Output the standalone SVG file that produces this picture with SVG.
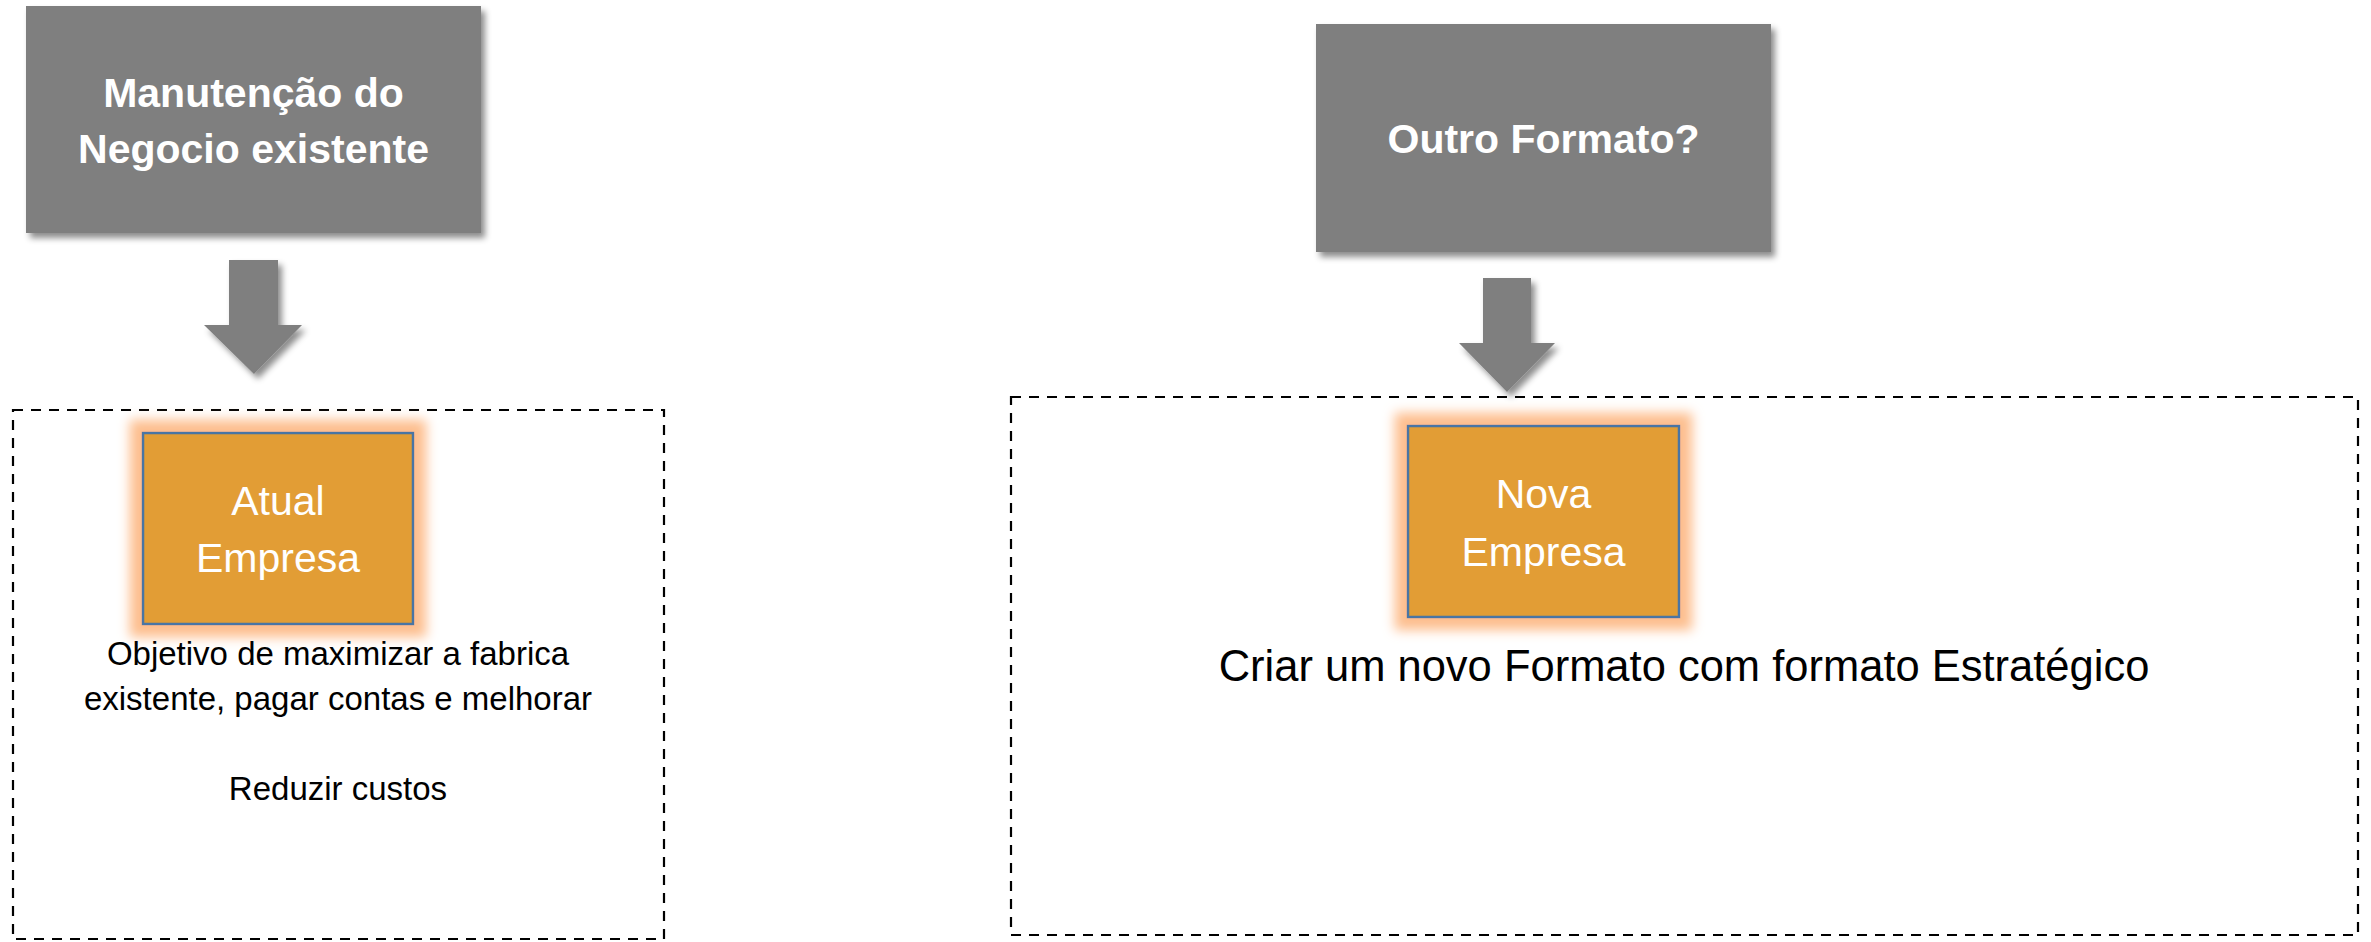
<svg xmlns="http://www.w3.org/2000/svg" width="2371" height="942" viewBox="0 0 2371 942">
<defs>
<filter id="shadow" x="-10%" y="-10%" width="130%" height="130%">
<feGaussianBlur in="SourceAlpha" stdDeviation="3"/>
<feOffset dx="4" dy="5" result="b"/>
<feFlood flood-color="#000" flood-opacity="0.45"/>
<feComposite in2="b" operator="in"/>
<feMerge><feMergeNode/><feMergeNode in="SourceGraphic"/></feMerge>
</filter>
<filter id="glow" x="-30%" y="-30%" width="160%" height="160%">
<feMorphology in="SourceAlpha" operator="dilate" radius="12" result="d"/>
<feGaussianBlur in="d" stdDeviation="6" result="g"/>
<feFlood flood-color="#FDBE8E" flood-opacity="1"/>
<feComposite in2="g" operator="in"/>
<feMerge><feMergeNode/><feMergeNode in="SourceGraphic"/></feMerge>
</filter>
</defs>
<style>
.head{fill:#7F7F7F;filter:url(#shadow)}
.headtxt{font-family:"Liberation Sans",Arial,sans-serif;font-weight:bold;font-size:41px;fill:#fff;text-anchor:middle}
.dash{fill:none;stroke:#000;stroke-width:2.2;stroke-dasharray:10 8}
.org{fill:#E29D35;stroke:#4A74A4;stroke-width:2.5;filter:url(#glow)}
.orgtxt{font-family:"Liberation Sans",Arial,sans-serif;font-size:41px;fill:#fff;text-anchor:middle}
.desc{font-family:"Liberation Sans",Arial,sans-serif;font-size:33px;fill:#000;text-anchor:middle}
.arrow{fill:#7F7F7F;filter:url(#shadow)}
</style>
<rect width="2371" height="942" fill="#fff"/>

<g id="node-manutencao">
<rect class="head" x="26" y="6" width="455" height="227"/>
<text class="headtxt" x="253.5" y="107">Manutenção do</text>
<text class="headtxt" x="253.5" y="163">Negocio existente</text>
</g>

<g id="node-outro">
<rect class="head" x="1316" y="24" width="455" height="228"/>
<text class="headtxt" x="1543.5" y="153">Outro Formato?</text>
</g>

<g id="group-left">
<rect class="dash" x="13" y="410" width="651" height="529"/>
</g>

<g id="group-right">
<rect class="dash" x="1011" y="397" width="1347" height="538"/>
</g>

<g id="node-atual">
<rect class="org" x="143" y="433" width="270" height="191"/>
<text class="orgtxt" x="278" y="515">Atual</text>
<text class="orgtxt" x="278" y="572">Empresa</text>
</g>

<g id="text-atual">
<text class="desc" x="338" y="665">Objetivo de maximizar a fabrica</text>
<text class="desc" x="338" y="710">existente, pagar contas e melhorar</text>
<text class="desc" x="338" y="800">Reduzir custos</text>
</g>

<g id="node-nova">
<rect class="org" x="1408" y="426" width="271" height="191"/>
<text class="orgtxt" x="1543.5" y="508">Nova</text>
<text class="orgtxt" x="1543.5" y="566">Empresa</text>
</g>

<g id="text-nova">
<text class="desc" x="1684" y="681" style="font-size:43.5px">Criar um novo Formato com formato Estratégico</text>
</g>

<g id="connectors">
<polygon class="arrow" points="229,260 278,260 278,325 302,325 254,374 204,325 229,325"/>
<polygon class="arrow" points="1483,278 1531,278 1531,343 1555,343 1507,392 1459,343 1483,343"/>
</g>
</svg>
